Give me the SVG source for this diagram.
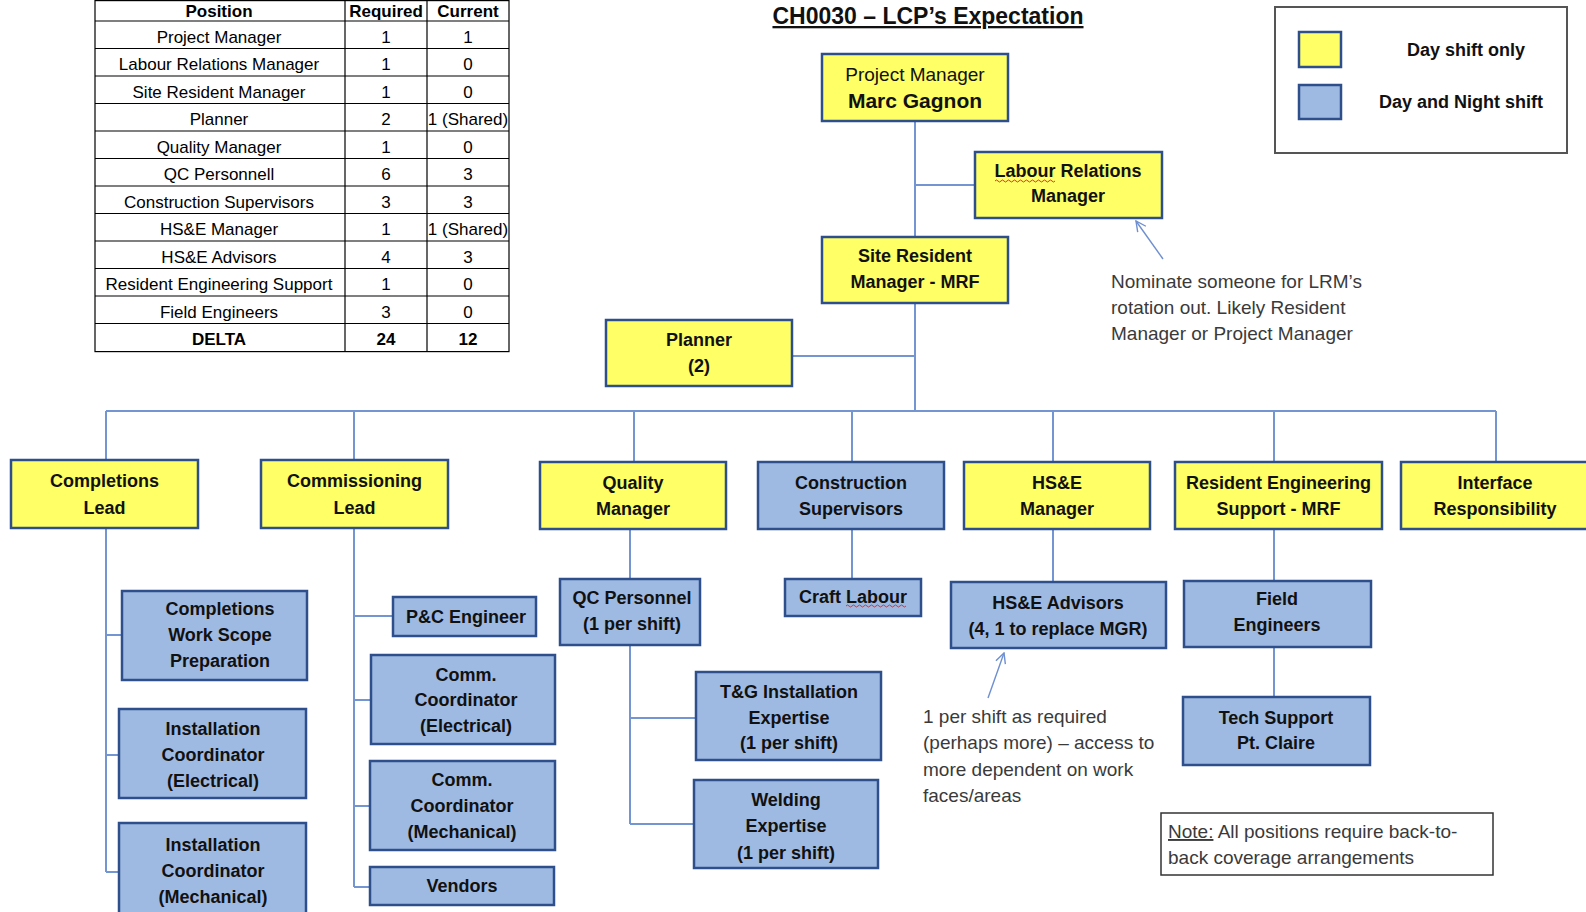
<svg xmlns="http://www.w3.org/2000/svg" width="1586" height="912" viewBox="0 0 1586 912">
<defs>
<style>
.y{fill:#FFFF66;stroke:#2E4F8C;stroke-width:2.5}
.b{fill:#9FBAE2;stroke:#2E4F8C;stroke-width:2.5}
.t{font-family:"Liberation Sans",Arial,sans-serif;font-weight:bold;font-size:18px;text-anchor:middle;dominant-baseline:central;fill:#111}
.n{font-family:"Liberation Sans",Arial,sans-serif;font-size:19px;fill:#3a3a3a}
.c{stroke:#7396D3;stroke-width:2;fill:none}
.tb{font-family:"Liberation Sans",Arial,sans-serif;font-size:17px;text-anchor:middle;dominant-baseline:central;fill:#000}
.tl{stroke:#000;stroke-width:1.2}
.sq{fill:none;stroke:#E03030;stroke-width:1}
.ar{stroke:#6E8FD0;stroke-width:1.4;fill:none}
</style>
<marker id="ah" viewBox="0 0 12 12" refX="11" refY="6" markerWidth="12" markerHeight="12" markerUnits="userSpaceOnUse" orient="auto">
<path d="M1,1 L11,6 L1,11" fill="none" stroke="#6E8FD0" stroke-width="1.4"/>
</marker>
</defs>
<rect width="1586" height="912" fill="#fff"/>

<g id="table">
<rect x="95" y="0.6" width="414" height="351" fill="#fff" stroke="#000" stroke-width="1.2"/>
<line class="tl" x1="345" y1="0" x2="345" y2="352"/>
<line class="tl" x1="427" y1="0" x2="427" y2="352"/>
<g class="tl">
<line x1="95" y1="21" x2="509" y2="21"/>
<line x1="95" y1="48.5" x2="509" y2="48.5"/>
<line x1="95" y1="76" x2="509" y2="76"/>
<line x1="95" y1="103.5" x2="509" y2="103.5"/>
<line x1="95" y1="131" x2="509" y2="131"/>
<line x1="95" y1="158.5" x2="509" y2="158.5"/>
<line x1="95" y1="186" x2="509" y2="186"/>
<line x1="95" y1="213.5" x2="509" y2="213.5"/>
<line x1="95" y1="241" x2="509" y2="241"/>
<line x1="95" y1="268.5" x2="509" y2="268.5"/>
<line x1="95" y1="296" x2="509" y2="296"/>
<line x1="95" y1="323.5" x2="509" y2="323.5"/>
</g>
<g class="tb" style="font-weight:bold">
<text x="219" y="11">Position</text><text x="386" y="11">Required</text><text x="468" y="11">Current</text>
</g>
<g class="tb">
<text x="219" y="37">Project Manager</text><text x="386" y="37">1</text><text x="468" y="37">1</text>
<text x="219" y="64.5">Labour Relations Manager</text><text x="386" y="64.5">1</text><text x="468" y="64.5">0</text>
<text x="219" y="92">Site Resident Manager</text><text x="386" y="92">1</text><text x="468" y="92">0</text>
<text x="219" y="119.5">Planner</text><text x="386" y="119.5">2</text><text x="468" y="119.5">1 (Shared)</text>
<text x="219" y="147">Quality Manager</text><text x="386" y="147">1</text><text x="468" y="147">0</text>
<text x="219" y="174.5">QC Personnell</text><text x="386" y="174.5">6</text><text x="468" y="174.5">3</text>
<text x="219" y="202">Construction Supervisors</text><text x="386" y="202">3</text><text x="468" y="202">3</text>
<text x="219" y="229.5">HS&amp;E Manager</text><text x="386" y="229.5">1</text><text x="468" y="229.5">1 (Shared)</text>
<text x="219" y="257">HS&amp;E Advisors</text><text x="386" y="257">4</text><text x="468" y="257">3</text>
<text x="219" y="284.5">Resident Engineering Support</text><text x="386" y="284.5">1</text><text x="468" y="284.5">0</text>
<text x="219" y="312">Field Engineers</text><text x="386" y="312">3</text><text x="468" y="312">0</text>
</g>
<g class="tb" style="font-weight:bold">
<text x="219" y="339.5">DELTA</text><text x="386" y="339.5">24</text><text x="468" y="339.5">12</text>
</g>
</g>

<g id="title">
<text x="928" y="24" font-family="'Liberation Sans',Arial,sans-serif" font-weight="bold" font-size="23" text-anchor="middle" fill="#111" text-decoration="underline">CH0030 – LCP’s Expectation</text>
</g>

<g id="legend">
<rect x="1275" y="7" width="292" height="146" fill="#fff" stroke="#555" stroke-width="2"/>
<rect class="y" x="1299" y="32" width="42" height="35"/>
<rect class="b" x="1299" y="85" width="42" height="34"/>
<text class="t" x="1466" y="50">Day shift only</text>
<text class="t" x="1461" y="102">Day and Night shift</text>
</g>

<g id="connectors">
<path class="c" d="M915,121 V411 M915,185 H975 M792,356 H915"/>
<path class="c" d="M106,411 H1496 M106,411 V460 M354,411 V460 M634,411 V462 M852,411 V462 M1053,411 V462 M1274,411 V462 M1496,411 V462"/>
<path class="c" d="M106,528 V872 M106,635 H122 M106,755 H119 M106,872 H119"/>
<path class="c" d="M354,528 V887 M354,616 H393 M354,700 H371 M354,806 H370 M354,887 H370"/>
<path class="c" d="M630,529 V579 M630,645 V824 M630,718 H696 M630,824 H694"/>
<path class="c" d="M852,529 V579"/>
<path class="c" d="M1053,529 V582"/>
<path class="c" d="M1274,529 V581 M1274,647 V697"/>
<line class="ar" x1="1163" y1="259" x2="1136" y2="221" marker-end="url(#ah)"/>
<line class="ar" x1="988" y1="698" x2="1004" y2="653" marker-end="url(#ah)"/>
</g>

<g id="pm"><rect class="y" x="822" y="54" width="186" height="67"/>
<text class="t" x="915" y="74" style="font-weight:normal;font-size:19px">Project Manager</text>
<text class="t" x="915" y="100" style="font-size:21px">Marc Gagnon</text></g>

<g id="lrm"><rect class="y" x="975" y="152" width="187" height="66"/>
<text class="t" x="1068" y="171">Labour Relations</text><text class="t" x="1068" y="196">Manager</text>
<path class="sq" d="M995,181 q1.5,-2 3,0 t3,0 t3,0 t3,0 t3,0 t3,0 t3,0 t3,0 t3,0 t3,0 t3,0 t3,0 t3,0 t3,0 t3,0 t3,0 t3,0 t3,0 t3,0 t3,0"/></g>

<g id="srm"><rect class="y" x="822" y="237" width="186" height="66"/>
<text class="t" x="915" y="256">Site Resident</text><text class="t" x="915" y="282">Manager - MRF</text></g>

<g id="planner"><rect class="y" x="606" y="320" width="186" height="66"/>
<text class="t" x="699" y="340">Planner</text><text class="t" x="699" y="366">(2)</text></g>

<g id="note-lrm">
<text class="n" x="1111" y="288">Nominate someone for LRM’s</text>
<text class="n" x="1111" y="314">rotation out. Likely Resident</text>
<text class="n" x="1111" y="340">Manager or Project Manager</text>
</g>

<g id="completions"><rect class="y" x="11" y="460" width="187" height="68"/>
<text class="t" x="104.5" y="481">Completions</text><text class="t" x="104.5" y="508">Lead</text></g>
<g id="commissioning"><rect class="y" x="261" y="460" width="187" height="68"/>
<text class="t" x="354.5" y="481">Commissioning</text><text class="t" x="354.5" y="508">Lead</text></g>
<g id="quality"><rect class="y" x="540" y="462" width="186" height="67"/>
<text class="t" x="633" y="483">Quality</text><text class="t" x="633" y="509">Manager</text></g>
<g id="construction"><rect class="b" x="758" y="462" width="186" height="67"/>
<text class="t" x="851" y="483">Construction</text><text class="t" x="851" y="509">Supervisors</text></g>
<g id="hse"><rect class="y" x="964" y="462" width="186" height="67"/>
<text class="t" x="1057" y="483">HS&amp;E</text><text class="t" x="1057" y="509">Manager</text></g>
<g id="reseng"><rect class="y" x="1175" y="462" width="207" height="67"/>
<text class="t" x="1278.5" y="483">Resident Engineering</text><text class="t" x="1278.5" y="509">Support - MRF</text></g>
<g id="interface"><rect class="y" x="1401" y="462" width="187" height="67"/>
<text class="t" x="1495" y="483">Interface</text><text class="t" x="1495" y="509">Responsibility</text></g>

<g id="cwsp"><rect class="b" x="122" y="591" width="185" height="89"/>
<text class="t" x="220" y="609">Completions</text><text class="t" x="220" y="635">Work Scope</text><text class="t" x="220" y="661">Preparation</text></g>
<g id="ice"><rect class="b" x="119" y="709" width="187" height="89"/>
<text class="t" x="213" y="729">Installation</text><text class="t" x="213" y="755">Coordinator</text><text class="t" x="213" y="781">(Electrical)</text></g>
<g id="icm"><rect class="b" x="119" y="823" width="187" height="95"/>
<text class="t" x="213" y="845">Installation</text><text class="t" x="213" y="871">Coordinator</text><text class="t" x="213" y="897">(Mechanical)</text></g>

<g id="pc"><rect class="b" x="393" y="597" width="143" height="39"/>
<text class="t" x="466" y="617">P&amp;C Engineer</text></g>
<g id="cce"><rect class="b" x="371" y="655" width="184" height="89"/>
<text class="t" x="466" y="675">Comm.</text><text class="t" x="466" y="700">Coordinator</text><text class="t" x="466" y="726">(Electrical)</text></g>
<g id="ccm"><rect class="b" x="370" y="761" width="185" height="89"/>
<text class="t" x="462" y="780">Comm.</text><text class="t" x="462" y="806">Coordinator</text><text class="t" x="462" y="832">(Mechanical)</text></g>
<g id="vendors"><rect class="b" x="370" y="867" width="184" height="38"/>
<text class="t" x="462" y="886">Vendors</text></g>

<g id="qc"><rect class="b" x="560" y="579" width="140" height="66"/>
<text class="t" x="632" y="598">QC Personnel</text><text class="t" x="632" y="624">(1 per shift)</text></g>
<g id="tg"><rect class="b" x="696" y="672" width="185" height="88"/>
<text class="t" x="789" y="692">T&amp;G Installation</text><text class="t" x="789" y="718">Expertise</text><text class="t" x="789" y="743">(1 per shift)</text></g>
<g id="welding"><rect class="b" x="694" y="780" width="184" height="88"/>
<text class="t" x="786" y="800">Welding</text><text class="t" x="786" y="826">Expertise</text><text class="t" x="786" y="853">(1 per shift)</text></g>

<g id="craft"><rect class="b" x="785" y="579" width="136" height="37"/>
<text class="t" x="853" y="597">Craft Labour</text>
<path class="sq" d="M846,606 q1.5,-2 3,0 t3,0 t3,0 t3,0 t3,0 t3,0 t3,0 t3,0 t3,0 t3,0 t3,0 t3,0 t3,0 t3,0 t3,0 t3,0 t3,0 t3,0 t3,0 t3,0"/></g>

<g id="hseadv"><rect class="b" x="951" y="582" width="215" height="66"/>
<text class="t" x="1058" y="603">HS&amp;E Advisors</text><text class="t" x="1058" y="629">(4, 1 to replace MGR)</text></g>

<g id="note-hse">
<text class="n" x="923" y="723">1 per shift as required</text>
<text class="n" x="923" y="749">(perhaps more) – access to</text>
<text class="n" x="923" y="776">more dependent on work</text>
<text class="n" x="923" y="802">faces/areas</text>
</g>

<g id="field"><rect class="b" x="1184" y="581" width="187" height="66"/>
<text class="t" x="1277" y="599">Field</text><text class="t" x="1277" y="625">Engineers</text></g>
<g id="tech"><rect class="b" x="1183" y="697" width="187" height="68"/>
<text class="t" x="1276" y="718">Tech Support</text><text class="t" x="1276" y="743">Pt. Claire</text></g>

<g id="note">
<rect x="1161" y="813" width="332" height="62" fill="#fff" stroke="#333" stroke-width="1.5"/>
<text class="n" x="1168" y="838"><tspan text-decoration="underline">Note:</tspan> All positions require back-to-</text>
<text class="n" x="1168" y="864">back coverage arrangements</text>
</g>
</svg>
